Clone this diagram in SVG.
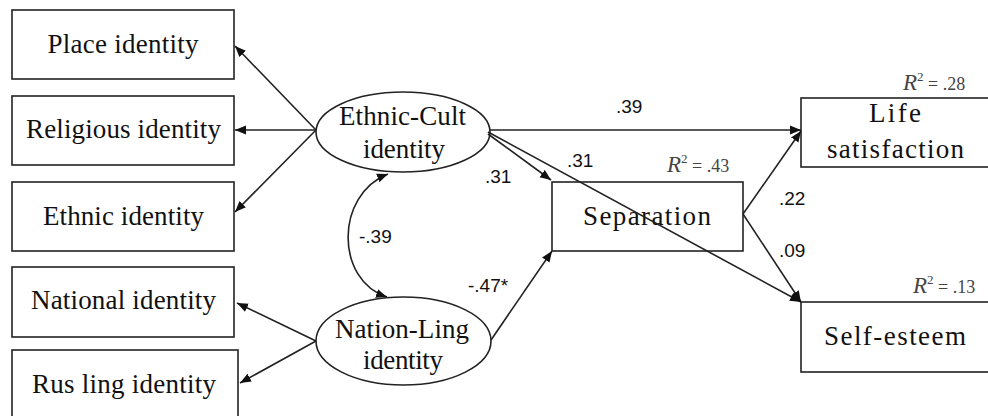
<svg xmlns="http://www.w3.org/2000/svg" width="988" height="416" viewBox="0 0 988 416">
<style>
.box{fill:#fff;stroke:#222;stroke-width:1.6}
.ell{fill:#fff;stroke:#222;stroke-width:1.6}
.t{font-family:"Liberation Serif","Times New Roman",serif;font-size:27px;fill:#111;text-anchor:middle}
.n{font-family:"Liberation Sans",Arial,sans-serif;font-size:19px;fill:#111}
.r{font-family:"Liberation Serif","Times New Roman",serif;fill:#444}
.c{fill:none;stroke:#222;stroke-width:1.6}
</style>
<defs>
<marker id="ah" markerUnits="userSpaceOnUse" markerWidth="12" markerHeight="10" refX="11" refY="4.5" orient="auto-start-reverse" viewBox="0 0 12 9">
<path d="M0,0 L11,4.5 L0,9 z" fill="#111"/>
</marker>
</defs>
<g id="place"><rect class="box" x="12" y="10" width="222" height="69"/><text class="t" x="123" y="53" textLength="151">Place identity</text></g>
<g id="religious"><rect class="box" x="12" y="96" width="222" height="69"/><text class="t" x="123.5" y="138" textLength="195">Religious identity</text></g>
<g id="ethnic"><rect class="box" x="12" y="182" width="222" height="69"/><text class="t" x="123.5" y="225" textLength="161">Ethnic identity</text></g>
<g id="national"><rect class="box" x="12" y="267" width="222" height="70"/><text class="t" x="123.5" y="309" textLength="185">National identity</text></g>
<g id="rusling"><rect class="box" x="12" y="350" width="226" height="80"/><text class="t" x="124" y="393" textLength="184">Rus ling identity</text></g>
<g id="ethniccult"><ellipse class="ell" cx="403" cy="132" rx="87" ry="40"/><text class="t" x="402.5" y="125" textLength="127">Ethnic-Cult</text><text class="t" x="404" y="158" textLength="82">identity</text></g>
<g id="nationling"><ellipse class="ell" cx="403.5" cy="341" rx="87.5" ry="44"/><text class="t" x="402" y="338" textLength="134">Nation-Ling</text><text class="t" x="403" y="369" textLength="80">identity</text></g>
<g id="separation"><rect class="box" x="552" y="182" width="191" height="69"/><text class="t" x="647" y="225" textLength="128">Separation</text></g>
<g id="lifesat"><rect class="box" x="801" y="98" width="200" height="69"/><text class="t" x="895" y="122" textLength="52">Life</text><text class="t" x="895.5" y="158" textLength="137">satisfaction</text></g>
<g id="selfesteem"><rect class="box" x="801" y="302" width="200" height="70"/><text class="t" x="895" y="345" textLength="142">Self-esteem</text></g>
<g id="connectors">
<line class="c" x1="316" y1="130" x2="235" y2="46" marker-end="url(#ah)"/>
<line class="c" x1="316" y1="130" x2="235" y2="130" marker-end="url(#ah)"/>
<line class="c" x1="316" y1="130" x2="235" y2="212" marker-end="url(#ah)"/>
<line class="c" x1="316" y1="341" x2="237" y2="303" marker-end="url(#ah)"/>
<line class="c" x1="316" y1="341" x2="240" y2="383" marker-end="url(#ah)"/>
<path class="c" d="M388,174 C335,195 335,280 387,297" marker-start="url(#ah)" marker-end="url(#ah)"/>
<line class="c" x1="490" y1="130" x2="801" y2="130" marker-end="url(#ah)"/>
<line class="c" x1="488" y1="134" x2="551" y2="180" marker-end="url(#ah)"/>
<line class="c" x1="488" y1="132" x2="801" y2="302" marker-end="url(#ah)"/>
<line class="c" x1="491" y1="340" x2="552" y2="251" marker-end="url(#ah)"/>
<line class="c" x1="743" y1="214" x2="801" y2="131" marker-end="url(#ah)"/>
<line class="c" x1="743" y1="214" x2="801" y2="302" marker-end="url(#ah)"/>
</g>
<g id="labels">
<text class="n" x="616" y="113">.39</text>
<text class="n" x="485" y="183">.31</text>
<text class="n" x="567" y="167">.31</text>
<text class="n" x="359" y="243">-.39</text>
<text class="n" x="468" y="292" font-size="20">-.47*</text>
<text class="n" x="779" y="205">.22</text>
<text class="n" x="779" y="257">.09</text>
<text class="r" x="903" y="90"><tspan font-style="italic" font-size="23">R</tspan><tspan font-size="13" dy="-9">2</tspan><tspan font-size="18" dy="9"> = .28</tspan></text>
<text class="r" x="667" y="172"><tspan font-style="italic" font-size="23">R</tspan><tspan font-size="13" dy="-9">2</tspan><tspan font-size="18" dy="9"> = .43</tspan></text>
<text class="r" x="913" y="293"><tspan font-style="italic" font-size="23">R</tspan><tspan font-size="13" dy="-9">2</tspan><tspan font-size="18" dy="9"> = .13</tspan></text>
</g>
</svg>
